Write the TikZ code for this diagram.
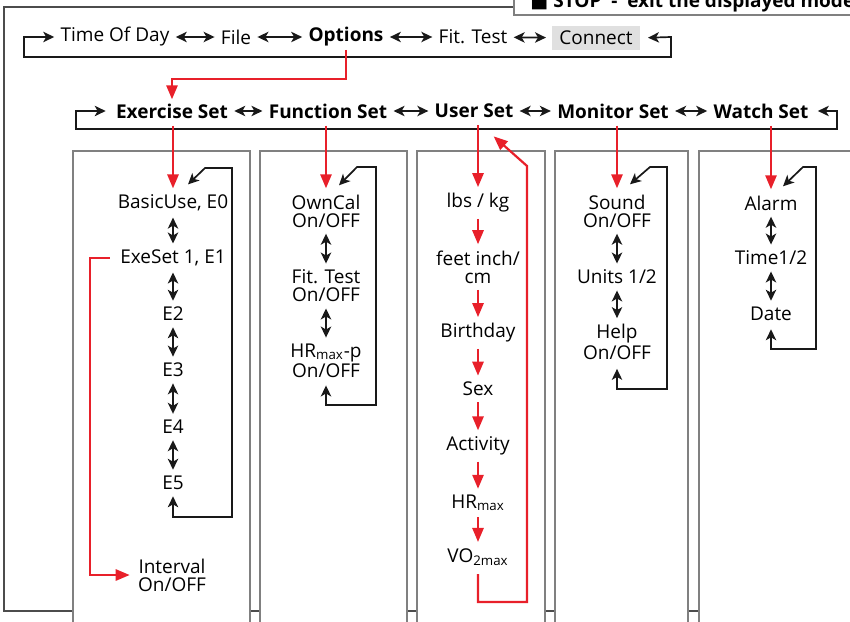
\documentclass[tikz,border=0pt]{standalone}
\usepackage{fontspec}
\setmainfont{Open Sans}
\newfontfamily\symfont{DejaVu Sans}
\usepackage{tikz}
\usetikzlibrary{arrows.meta}
\definecolor{menured}{RGB}{232,32,42}
\tikzset{
  entry/.style={inner sep=0pt, align=center, font=\fontsize{9.5}{9}\selectfont
  },
  setentry/.style={entry, font=\fontsize{9.5}{9}\selectfont\bfseries
  },
  blkline/.style={line width=0.85pt, black!90
  },
  bothtips/.style={blkline,
    {Stealth[length=5.5pt,width=5.2pt,inset=1.5pt]}-{Stealth[length=5.5pt,width=5.2pt,inset=1.5pt]}
  },
  dblarrow/.style={bothtips, shorten <=3pt, shorten >=3pt
  },
  redline/.style={line width=1.1pt, menured
  },
  redarrow/.style={redline, -{Triangle[length=7pt,width=5.6pt]}
  },
  colbox/.style={draw=black!50, line width=0.6pt, fill=white
  }
}

\begin{document}
\begin{tikzpicture}[x=0.5pt, y=-0.5pt]
  \useasboundingbox (0,0) rectangle (850,621);
  \draw[black!70, line width=0.6pt] (4,7) rectangle (880,611);
  \foreach \l/\r in {73/250, 260/407, 417/545, 555/688, 699/880}
    \draw[colbox] (\l,151) rectangle (\r,640);
  \draw[colbox] (514,-20) rectangle (880,15);
  \node[setentry, anchor=base west] (stop) at (530,7)
    {{\symfont ■}~STOP~~-~~exit the displayed mode};

  \node[entry] (tod) at (115,37) {Time Of Day};
  \node[entry] (file) at (236,37) {File};
  \node[setentry] (options) at (346,37) {Options};
  \node[entry] (fittest) at (473,37) {Fit. Test};
  \node[entry, fill=black!12, inner xsep=3.5pt, minimum height=12pt] (connect) at (596,38) {Connect};
  \draw[dblarrow] (tod) -- (file);
  \draw[dblarrow] (file) -- (options);
  \draw[dblarrow] (options) -- (fittest);
  \draw[dblarrow] (fittest) -- (connect);
  \draw[bothtips, shorten <=3pt, shorten >=4pt] (tod.west) -| (24,57) -| (671,37) -- (connect.east);

  \node[setentry] (exset) at (172,111) {Exercise Set};
  \node[setentry] (funcset) at (328,111) {Function Set};
  \node[setentry] (userset) at (474,111) {User Set};
  \node[setentry] (monset) at (613,111) {Monitor Set};
  \node[setentry] (watchset) at (761,111) {Watch Set};
  \draw[dblarrow] (exset) -- (funcset);
  \draw[dblarrow] (funcset) -- (userset);
  \draw[dblarrow] (userset) -- (monset);
  \draw[dblarrow] (monset) -- (watchset);
  \draw[bothtips, shorten <=5pt, shorten >=4.5pt] (exset.west) -| (76,129) -| (837,111) -- (watchset.east);
  \draw[redarrow, shorten <=1.5pt, shorten >=2pt] (options.south) -- ++(0,32) -| (exset.north);

  \node[entry] (e0) at (173,203) {BasicUse, E0};
  \node[entry] (e1) at (173,258) {ExeSet 1, E1};
  \node[entry] (e2) at (173,314) {E2};
  \node[entry] (e3) at (173,370) {E3};
  \node[entry] (e4) at (173,427) {E4};
  \node[entry] (e5) at (173,483) {E5};
  \node[entry] (interval) at (172,575) {Interval\\On/OFF};
  \draw[dblarrow] (e0) -- (e1);
  \draw[dblarrow] (e1) -- (e2);
  \draw[dblarrow] (e2) -- (e3);
  \draw[dblarrow] (e3) -- (e4);
  \draw[dblarrow] (e4) -- (e5);
  \draw[bothtips, shorten <=3pt] (e5.south) |- (232,517) |- (205,168) -- ([shift={(15,-10)}]e0.north);
  \draw[redarrow, shorten <=3.5pt, shorten >=3pt] (e0 |- exset.south) -- (e0.north);
  \draw[redarrow, shorten <=5pt, shorten >=4pt] (e1.west) -| (90,575) -- (interval.west);

  \node[entry] (owncal) at (326,211) {OwnCal\\On/OFF};
  \node[entry] (fitonoff) at (326,286) {Fit. Test\\On/OFF};
  \node[entry] (hrp) at (326,361) {HR\textsubscript{max}-p\\On/OFF};
  \draw[dblarrow] (owncal) -- (fitonoff);
  \draw[dblarrow] (fitonoff) -- (hrp);
  \draw[bothtips, shorten <=3.5pt] (hrp.south) |- (376,405) |- (357,167) -- ([shift={(13,-9)}]owncal.north);
  \draw[redarrow, shorten <=3.5pt, shorten >=3pt] (owncal |- funcset.south) -- (owncal.north);

  \node[entry] (lbs) at (478,203) {lbs / kg};
  \node[entry] (feet) at (478,267) {feet inch/\\cm};
  \node[entry] (bday) at (478,333) {Birthday};
  \node[entry] (sex) at (478,389) {Sex};
  \node[entry] (activity) at (478,446) {Activity};
  \node[entry] (hr) at (478,503) {HR\textsubscript{max}};
  \node[entry] (vo) at (478,557) {VO\textsubscript{2max}};
  \draw[redarrow, shorten <=3.5pt, shorten >=3pt] (lbs |- userset.south) -- (lbs.north);
  \draw[redarrow, shorten <=3pt, shorten >=3pt] (lbs) -- (feet);
  \draw[redarrow, shorten <=3pt, shorten >=3pt] (feet) -- (bday);
  \draw[redarrow, shorten <=3pt, shorten >=3pt] (bday) -- (sex);
  \draw[redarrow, shorten <=3pt, shorten >=3pt] (sex) -- (activity);
  \draw[redarrow, shorten <=3pt, shorten >=3pt] (activity) -- (hr);
  \draw[redarrow, shorten <=3pt, shorten >=3pt] (hr) -- (vo);
  \draw[redarrow, shorten <=4pt] (vo.south) |- (527,602) -- (527,166) -- ([shift={(-20,18)}]userset.south east);

  \node[entry] (sound) at (617,211) {Sound\\On/OFF};
  \node[entry] (units) at (617,277) {Units 1/2};
  \node[entry] (help) at (617,342) {Help\\On/OFF};
  \draw[dblarrow] (sound) -- (units);
  \draw[dblarrow] (units) -- (help);
  \draw[bothtips, shorten <=4.5pt] (help.south) |- (667,389) |- (650,167) -- ([shift={(13,-10)}]sound.north);
  \draw[redarrow, shorten <=3.5pt, shorten >=3pt] (sound |- monset.south) -- (sound.north);

  \node[entry] (alarm) at (771,203) {Alarm};
  \node[entry] (time) at (771,258) {Time1/2};
  \node[entry] (date) at (771,314) {Date};
  \draw[dblarrow] (alarm) -- (time);
  \draw[dblarrow] (time) -- (date);
  \draw[bothtips, shorten <=4pt] (date.south) |- (816,349) |- (803,167) -- ([shift={(12,-9)}]alarm.north);
  \draw[redarrow, shorten <=3.5pt, shorten >=3pt] (alarm |- watchset.south) -- (alarm.north);
\end{tikzpicture}
\end{document}
